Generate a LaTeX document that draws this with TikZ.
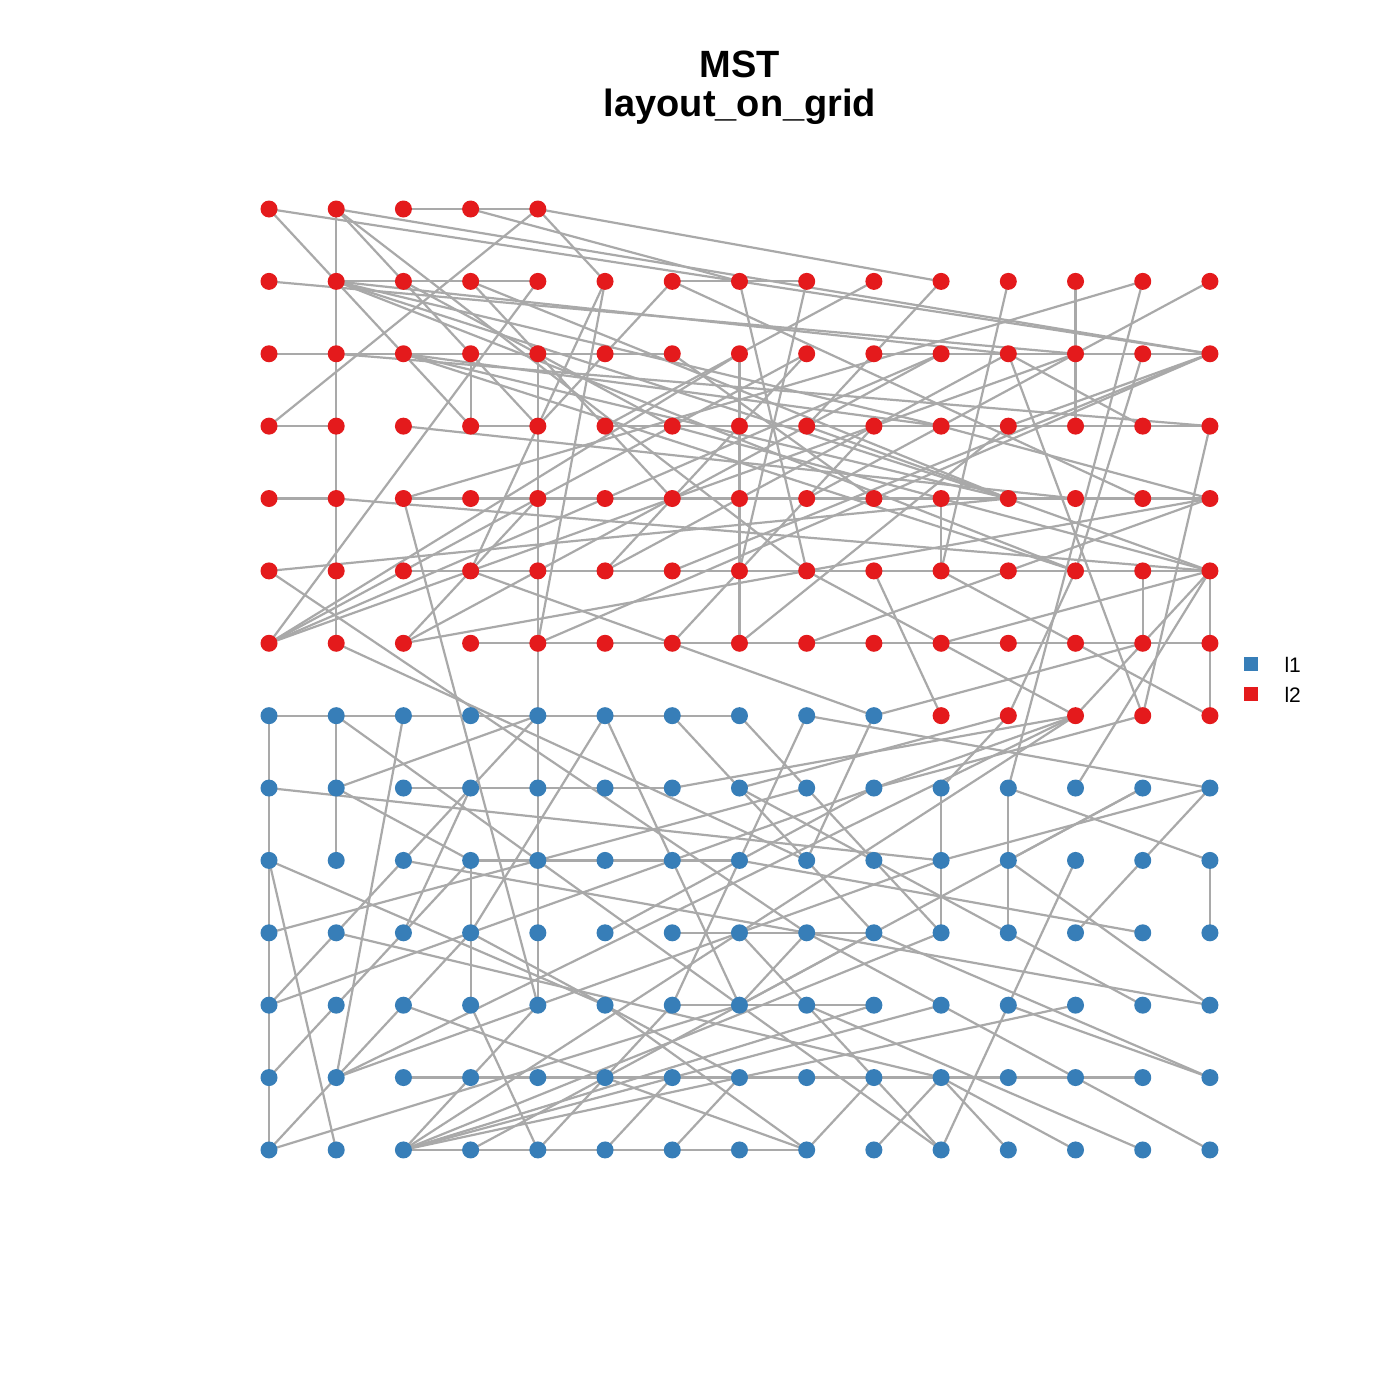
\documentclass[tikz,border=0pt]{standalone}
\usepackage{fontspec}
\setmainfont{Liberation Sans}
\pgfdeclarelayer{bg}
\pgfdeclarelayer{edges}
\pgfsetlayers{bg,edges,main}
\definecolor{nred}{HTML}{E41A1C}
\definecolor{nblue}{HTML}{377EB8}
\definecolor{egray}{HTML}{A9A9A9}
\begin{document}
\begin{tikzpicture}[x=1pt,y=-1pt,
  vtx/.style={circle,inner sep=0pt,minimum size=17pt,draw=none},
  rv/.style={vtx,fill=nred}, bv/.style={vtx,fill=nblue},
  edge/.style={draw=egray,line width=2.2pt},
  ttl/.style={font=\bfseries\fontsize{38}{40}\selectfont,anchor=base},
  leg/.style={font=\fontsize{21}{24}\selectfont,anchor=base west}]
\begin{pgfonlayer}{bg}
\fill[white] (0,0) rectangle (1400,1400);
\end{pgfonlayer}
\useasboundingbox (0,0) rectangle (1400,1400);
\node[ttl] (t1) at (740,77) {MST};
\node[ttl] (t2) at (740,116) {layout\_on\_grid};
\foreach \c in {0,...,4} \node[rv] (n-\c-0) at ({269+67.21*\c},209) {};
\foreach \r in {1,...,6} \foreach \c in {0,...,14} \node[rv] (n-\c-\r) at ({269+67.21*\c},{209+72.38*\r}) {};
\foreach \c in {0,...,9} \node[bv] (n-\c-7) at ({269+67.21*\c},{209+72.38*7}) {};
\foreach \c in {10,...,14} \node[rv] (n-\c-7) at ({269+67.21*\c},{209+72.38*7}) {};
\foreach \r in {8,...,13} \foreach \c in {0,...,14} \node[bv] (n-\c-\r) at ({269+67.21*\c},{209+72.38*\r}) {};
\node[fill=nblue,inner sep=0pt,minimum size=14pt] (k1) at (1251,664) {};
\node[fill=nred,inner sep=0pt,minimum size=14pt] (k2) at (1251,694) {};
\node[leg] (l1) at (1281,672) {l1};
\node[leg] (l2) at (1281,702) {l2};
\begin{pgfonlayer}{edges}
\foreach \a/\b in {
1-0/1-6, 1-1/4-1, 6-1/8-1, 12-1/12-3, 2-0/4-0, 0-2/6-2, 0-3/1-3, 3-3/4-3, 3-2/3-3,
4-2/4-11, 7-2/7-6, 0-4/1-4, 2-4/14-4, 2-5/14-5, 3-6/14-6, 10-4/10-5, 13-5/13-6, 14-5/14-7, 14-3/13-7,
0-7/7-7, 0-7/0-13, 1-7/1-9, 2-8/6-8, 3-9/3-11, 3-9/7-9, 2-12/13-12, 2-13/8-13, 10-8/10-10, 11-8/11-10, 14-9/14-10,
6-10/9-10, 6-11/9-11,
0-0/1-1, 0-0/7-1, 1-0/14-2, 1-0/4-3, 1-0/8-5, 3-0/7-1, 4-0/10-1, 4-0/5-1, 4-0/0-3,
0-1/12-2, 1-1/3-3, 1-1/11-2, 1-1/10-3, 1-1/11-4, 1-1/12-5, 2-1/6-3, 3-1/6-4, 3-1/11-4,
4-1/0-6, 5-1/4-6, 5-1/3-5, 6-1/4-3, 7-1/14-2, 7-1/8-5, 8-1/7-5, 9-1/5-3, 10-1/8-3, 11-1/10-5,
13-1/2-4, 13-1/11-8, 14-1/8-4, 6-1/13-4, 1-2/14-3, 2-2/10-3, 2-2/11-4, 2-2/12-5, 2-3/12-4,
6-2/9-4, 8-2/5-5, 9-2/14-2, 10-2/2-6, 11-2/13-3, 11-2/5-5, 11-2/13-7, 13-2/12-5, 14-2/11-3, 14-2/4-6, 14-2/6-5,
0-6/7-2, 0-6/8-2, 0-6/10-2, 0-6/12-2, 0-5/11-4, 1-4/14-5, 2-6/14-4, 2-6/4-4, 3-5/9-7,
5-3/14-3, 6-3/14-5, 8-3/14-5, 10-3/14-4, 11-3/7-6, 9-3/6-6, 8-6/14-4, 10-6/14-5, 8-5/12-7, 12-7/14-5, 11-7/12-5,
9-5/10-7, 10-5/14-7, 14-5/12-8, 11-7/10-8, 0-5/8-10, 1-6/8-9, 2-4/4-11, 1-7/7-11, 0-8/10-9, 1-8/4-7, 1-8/3-9, 2-7/1-12,
2-9/14-11, 2-9/0-11, 2-9/4-7, 0-9/5-11, 0-9/1-13, 0-10/8-8, 3-8/2-10,
6-8/12-7, 7-8/11-7, 8-7/14-8, 11-8/14-9, 13-8/11-9, 14-8/10-9, 14-8/13-9, 13-9/12-10, 7-7/10-10, 6-7/9-10,
0-11/12-7, 1-12/10-9, 0-13/7-11, 2-11/8-13, 4-13/3-11, 2-13/4-11, 2-13/9-11, 2-13/10-10, 2-13/10-11, 2-13/12-11, 0-12/3-9,
11-9/14-11, 9-9/13-11, 9-10/14-12, 11-11/14-12, 8-10/14-13, 10-12/12-13, 10-12/11-13, 3-10/7-12, 1-10/10-12,
2-13/12-7, 3-13/9-10, 1-12/12-7, 0-13/3-10,
5-7/7-11, 5-7/3-10, 8-7/6-11, 9-7/8-9, 9-7/13-6, 7-8/9-9, 9-8/13-7, 5-10/9-8,
5-11/8-13, 8-13/9-12, 6-13/7-12, 5-13/6-12, 8-10/7-11, 7-10/9-12, 7-11/13-8, 4-13/6-11,
10-13/12-9, 8-11/13-13, 9-12/10-13, 7-11/10-13, 9-13/10-12, 13-10/7-9}
  \draw[edge] (n-\a.center) -- (n-\b.center);
\end{pgfonlayer}
\end{tikzpicture}
\end{document}
